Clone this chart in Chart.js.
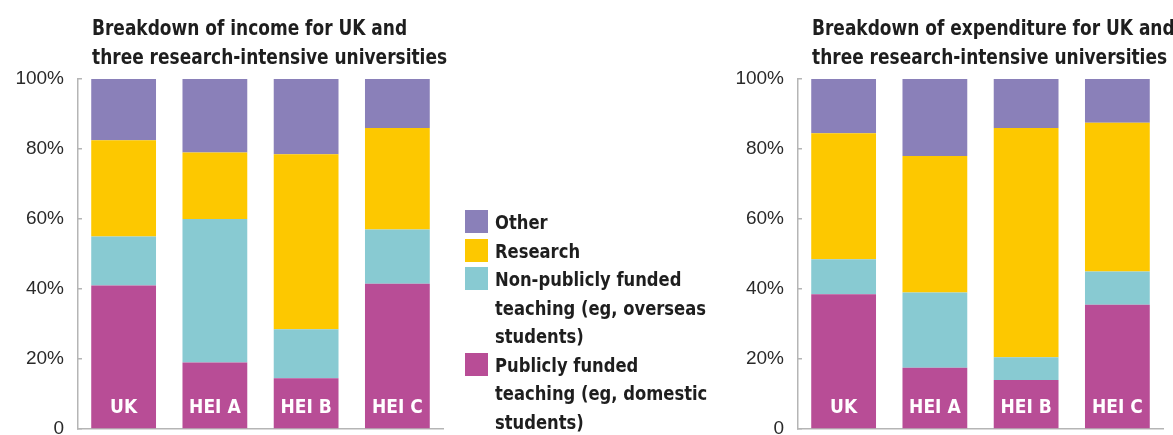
<!DOCTYPE html>
<html>
<head>
<meta charset="utf-8">
<script src="https://cdn.jsdelivr.net/npm/chart.js@4/dist/chart.umd.min.js"></script>
<style>
  body { margin: 0; background: #fff; width: 1173px; height: 435px; position: relative; overflow: hidden; }
  .box { position: absolute; top: 0; width: 450px; height: 440px; }
  .title {
    position: absolute; top: 14px; white-space: nowrap;
    font-family: "DejaVu Sans Condensed", "Liberation Sans Narrow", sans-serif;
    font-weight: bold; font-size: 21px; line-height: 29px; color: #1e1e1e;
    transform: scaleX(0.9); transform-origin: 0 0;
  }
  #legend {
    position: absolute; left: 465px; top: 208px; white-space: nowrap;
    font-family: "DejaVu Sans Condensed", "Liberation Sans Narrow", sans-serif;
    font-weight: bold; font-size: 20px; line-height: 28.5px; color: #1e1e1e;
  }
  #legend .item { display: flex; align-items: flex-start; }
  #legend .sw { width: 23px; height: 23px; margin-top: 2px; margin-right: 7px; flex: none; }
  #legend .txt { transform: scaleX(0.91); transform-origin: 0 0; }
</style>
</head>
<body>
<div class="box" style="left:0"><canvas id="incomeChart"></canvas></div>
<div class="box" style="left:720px"><canvas id="expenditureChart"></canvas></div>
<div class="title" style="left:92px">Breakdown of income for UK and<br>three research-intensive universities</div>
<div class="title" style="left:812px">Breakdown of expenditure for UK and<br>three research-intensive universities</div>
<div id="legend"></div>
<script>
const categories = ['UK', 'HEI A', 'HEI B', 'HEI C'];
const seriesNames = ['Publicly funded teaching', 'Non-publicly funded teaching', 'Research', 'Other'];
const legendLines = [
  ['Other'],
  ['Research'],
  ['Non-publicly funded', 'teaching (eg, overseas', 'students)'],
  ['Publicly funded', 'teaching (eg, domestic', 'students)']
];
const colours = ['#b84d96', '#88cad2', '#fdc800', '#8a80b9'];
const yTicks = [0, 20, 40, 60, 80, 100];

// income shares, per cent
const incomePublic    = [41, 19, 14.5, 41.5];
const incomeNonPublic = [14, 41, 14, 15.5];
const incomeResearch  = [27.5, 19, 50, 29];
const incomeOther     = [17.5, 21, 21.5, 14];

// expenditure shares, per cent
const expPublic    = [38.5, 17.5, 14, 35.5];
const expNonPublic = [10, 21.5, 6.5, 9.5];
const expResearch  = [36, 39, 65.5, 42.5];
const expOther     = [15.5, 22, 14, 12.5];

const narrow = '"DejaVu Sans Condensed", "Liberation Sans Narrow", sans-serif';

function makeChart(id, series) {
  return new Chart(document.getElementById(id), {
    type: 'bar',
    data: {
      labels: categories,
      datasets: series.map((vals, i) => ({
        label: seriesNames[i],
        data: vals,
        backgroundColor: colours[i],
        borderWidth: 0,
        barPercentage: 0.71,
        categoryPercentage: 1
      }))
    },
    options: {
      responsive: true,
      maintainAspectRatio: false,
      animation: false,
      devicePixelRatio: 1,
      layout: { padding: { top: 79, bottom: 11, right: 7, left: 0 } },
      plugins: { legend: { display: false }, tooltip: { enabled: false }, title: { display: false } },
      scales: {
        x: {
          stacked: true,
          afterFit: s => { s.height = 0; },
          grid: { display: false, drawTicks: false },
          border: { display: true, color: '#b5b5b5', width: 1.5 },
          // category names sit inside the bars, on top of the datasets
          ticks: {
            z: 1,
            mirror: true,
            padding: 10,
            color: '#ffffff',
            font: { family: narrow, weight: 'bold', size: 19 }
          }
        },
        y: {
          stacked: true,
          min: 0,
          max: 100,
          // fixed axis width; label overflow shouldn't shrink the plot
          afterFit: s => { s.width = 78; s.paddingTop = 0; s.paddingBottom = 0; },
          afterBuildTicks: s => { s.ticks = yTicks.map(v => ({ value: v })); },
          grid: { drawOnChartArea: false, drawTicks: true, tickLength: -4, color: '#b5b5b5', lineWidth: 1.5 },
          border: { display: true, color: '#b5b5b5', width: 1.5 },
          ticks: {
            padding: 18,
            color: '#2a2a2a',
            font: { family: '"Liberation Sans", Arial, sans-serif', size: 19 },
            callback: v => v === 0 ? '0' : v + '%'
          }
        }
      }
    }
  });
}

makeChart('incomeChart', [incomePublic, incomeNonPublic, incomeResearch, incomeOther]);
makeChart('expenditureChart', [expPublic, expNonPublic, expResearch, expOther]);

// legend in top-down order: Other, Research, Non-publicly, Publicly
const legendEl = document.getElementById('legend');
legendLines.forEach((lines, i) => {
  const item = document.createElement('div');
  item.className = 'item';
  const sw = document.createElement('div');
  sw.className = 'sw';
  sw.style.background = colours[colours.length - 1 - i];
  const txt = document.createElement('div');
  txt.className = 'txt';
  txt.innerHTML = lines.join('<br>');
  item.appendChild(sw);
  item.appendChild(txt);
  legendEl.appendChild(item);
});
</script>
</body>
</html>
